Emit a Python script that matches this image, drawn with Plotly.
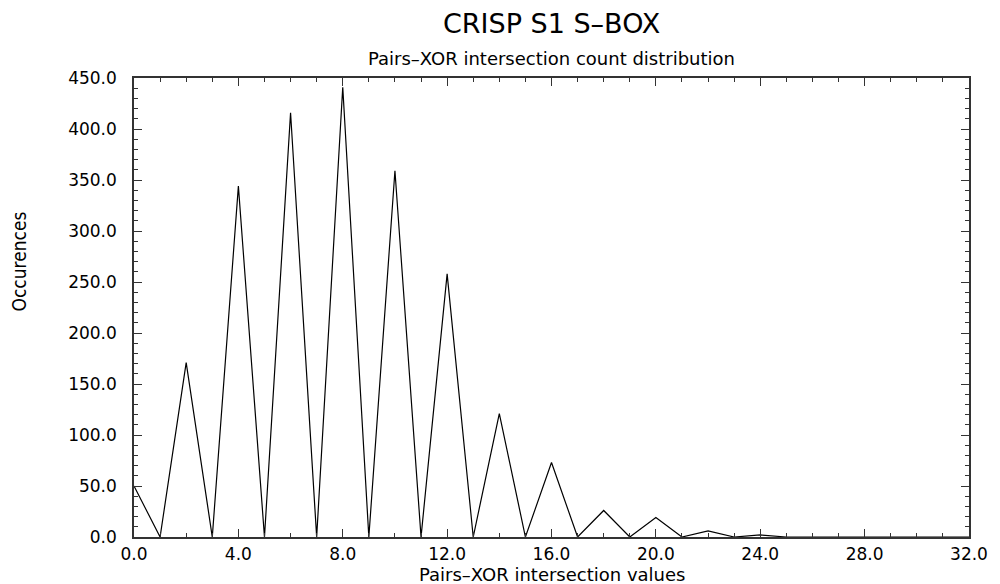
import plotly.graph_objects as go

# Data
x_values = list(range(0, 33))
occurrences = [50, 0, 171, 0, 344, 0, 416, 0, 441, 0, 359, 0, 258, 0, 121, 0,
               73, 0, 26, 0, 19, 0, 6, 0, 2, 0, 0, 0, 0, 0, 0, 0, 0]

title_text = "CRISP S1 S–BOX"
subtitle_text = "Pairs–XOR intersection count distribution"
x_title = "Pairs–XOR intersection values"
y_title = "Occurences"

FONT = "DejaVu Sans, Liberation Sans, Arial, sans-serif"

# page offset (html body margin) is 8px; figure size chosen to fit the window
W, H = 992, 576
OFF = 8

fig = go.Figure()
fig.add_trace(go.Scatter(
    x=x_values, y=occurrences, mode="lines",
    line=dict(color="black", width=1.2),
    showlegend=False, hoverinfo="x+y",
))

axis_common = dict(
    showgrid=False, zeroline=False,
    showline=True, linecolor="#333333", linewidth=1.5,
    mirror="ticks", ticks="inside", ticklen=8, tickwidth=1.3, tickcolor="#333333",
    tickformat=".1f",
    tickfont=dict(family=FONT, size=17, color="black"),
)

fig.update_xaxes(
    range=[0, 32], tick0=0, dtick=4,
    minor=dict(dtick=1, ticks="inside", ticklen=4, tickcolor="#333333", tickwidth=1),
    ticklabelstandoff=1,
    **axis_common,
)
fig.update_yaxes(
    range=[0, 450], tick0=0, dtick=50,
    minor=dict(dtick=10, ticks="inside", ticklen=4, tickcolor="#333333", tickwidth=1),
    ticklabelstandoff=12,
    **axis_common,
)

# reference pixel positions (page coordinates)
plot_l, plot_r, plot_t, plot_b = 134, 973, 78, 537
fig.update_layout(
    width=W, height=H,
    margin=dict(l=plot_l - OFF, r=W - (plot_r - OFF), t=plot_t - OFF, b=H - (plot_b - OFF)),
    paper_bgcolor="white", plot_bgcolor="white",
)

pw, ph = plot_r - plot_l, plot_b - plot_t
texts = [
    (title_text, None, 23, 27, FONT, 0),
    (subtitle_text, None, 58, 18, FONT, 0),
    (x_title, None, 574, 18, FONT, 0),
    (y_title, 18, 262, 19,
     "Liberation Sans Narrow, DejaVu Sans Condensed, Arial Narrow, sans-serif", -90),
]
for txt, px, py, size, fam, ang in texts:
    fig.add_annotation(
        text=txt,
        x=0.5 if px is None else (px - plot_l) / pw,
        y=(plot_b - py) / ph,
        xref="paper", yref="paper", xanchor="center", yanchor="middle",
        textangle=ang, showarrow=False,
        font=dict(family=fam, size=size, color="black"),
    )

fig.write_html("out.html")
